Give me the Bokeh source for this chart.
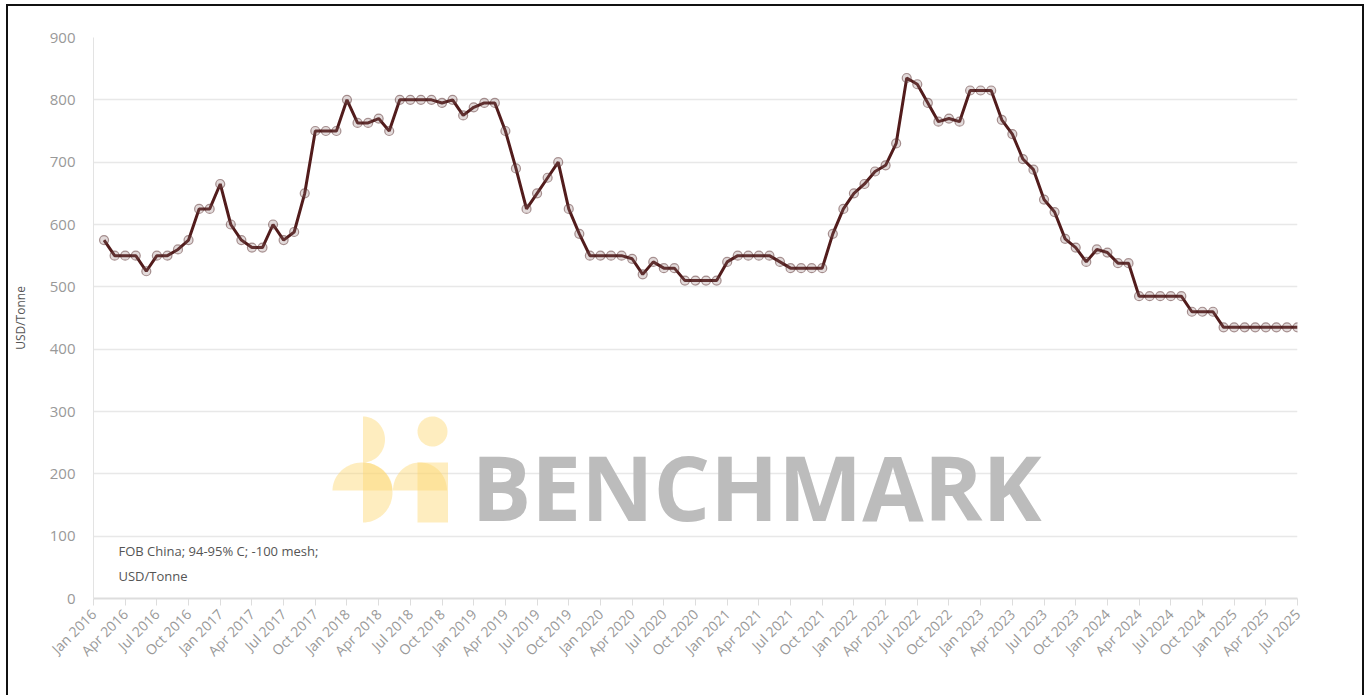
import numpy as np
import pandas as pd
from bokeh.plotting import figure
from bokeh.models import Range1d, FixedTicker, Label, ColumnDataSource
from bokeh.embed import file_html
from bokeh.resources import INLINE

# ---------------- data ----------------
start_month = "2016-02"
end_month = "2025-07"
prices = [
    575, 550, 550, 550, 525, 550, 550, 560, 575,            # Feb-Oct 2016
    625, 625, 665,                                          # Nov 2016-Jan 2017
    600, 575, 563, 563, 600, 575, 588, 650,                 # Feb-Sep 2017
    750, 750, 750,                                          # Oct-Dec 2017
    800, 763, 763, 770, 750,                                # Jan-May 2018
    800, 800, 800, 800, 795, 800, 775,                      # Jun-Dec 2018
    788, 795, 795,                                          # Jan-Mar 2019
    750, 690, 625, 650, 675, 700,                           # Apr-Sep 2019
    625, 585, 550,                                          # Oct-Dec 2019
    550, 550, 550,                                          # Jan-Mar 2020
    545, 520, 540, 530, 530,                                # Apr-Aug 2020
    510, 510, 510, 510,                                     # Sep-Dec 2020
    540, 550, 550, 550, 550,                                # Jan-May 2021
    540, 530, 530, 530, 530,                                # Jun-Oct 2021
    585, 625, 650, 665, 685, 695, 730,                      # Nov 2021-May 2022
    835, 825, 795, 765, 770, 765,                           # Jun-Nov 2022
    815, 815, 815,                                          # Dec 2022-Feb 2023
    768, 745, 705, 688, 640, 620, 577, 563, 540,            # Mar-Nov 2023
    560, 555, 538, 538,                                     # Dec 2023-Mar 2024
    485, 485, 485, 485, 485,                                # Apr-Aug 2024
    460, 460, 460,                                          # Sep-Nov 2024
    435, 435, 435, 435, 435, 435, 435, 435,                 # Dec 2024-Jul 2025
]
tick_labels = [
    "Jan 2016", "Apr 2016", "Jul 2016", "Oct 2016",
    "Jan 2017", "Apr 2017", "Jul 2017", "Oct 2017",
    "Jan 2018", "Apr 2018", "Jul 2018", "Oct 2018",
    "Jan 2019", "Apr 2019", "Jul 2019", "Oct 2019",
    "Jan 2020", "Apr 2020", "Jul 2020", "Oct 2020",
    "Jan 2021", "Apr 2021", "Jul 2021", "Oct 2021",
    "Jan 2022", "Apr 2022", "Jul 2022", "Oct 2022",
    "Jan 2023", "Apr 2023", "Jul 2023", "Oct 2023",
    "Jan 2024", "Apr 2024", "Jul 2024", "Oct 2024",
    "Jan 2025", "Apr 2025", "Jul 2025",
]
y_ticks = [0, 100, 200, 300, 400, 500, 600, 700, 800, 900]
note_text = "FOB China; 94-95% C; -100 mesh;\nUSD/Tonne"
y_title = "USD/Tonne"

# month index since Jan 2016
dates = pd.period_range(start_month, end_month, freq="M")
assert len(dates) == len(prices)
xidx = [(d.year - 2016) * 12 + d.month - 1 for d in dates]
src = ColumnDataSource(dict(x=xidx, y=prices))

FONT = "Open Sans"
X_MAX = (len(tick_labels) - 1) * 3

p = figure(frame_width=1204, frame_height=561, output_backend="svg", toolbar_location=None,
           x_range=Range1d(0, X_MAX), y_range=Range1d(0, 900),
           min_border_left=85, min_border_top=31, min_border_right=65, min_border_bottom=97,
           margin=(4, 0, 0, 6),
           styles={"border-top": "2px solid #111", "border-left": "2px solid #111",
                   "border-right": "2px solid #111"})
p.outline_line_color = None
p.background_fill_color = "white"
p.border_fill_color = "white"

# ---- watermark (decoration) ----
FW, FH = 1204.0, 561.0
def fx(px):  # frame pixel -> data x
    return px / FW * X_MAX
def fy(py):  # frame pixel from top -> data y
    return (FH - py) / FH * 900

def ellipse_part(cx, cy, rx, ry, a0, a1, n=40):
    t = np.linspace(np.radians(a0), np.radians(a1), n)
    return list(cx + rx * np.cos(t)), list(cy - ry * np.sin(t))

shapes = []
ox, oy = 93, 37  # frame origin on page
shapes.append(ellipse_part(362.5, 439, 22, 23, -90, 90))
shapes.append(ellipse_part(432, 431, 15, 15, 0, 360))
shapes.append(ellipse_part(362, 490, 30, 28, 0, 180))
shapes.append(ellipse_part(362.5, 492, 29.5, 30, -90, 90))
shapes.append(ellipse_part(419.5, 490, 27, 28, 0, 180))
shapes.append(([417, 447.5, 447.5, 417], [462, 462, 522, 522]))

pxs = [[fx(v - ox) for v in s[0]] for s in shapes]
pys = [[fy(v - oy) for v in s[1]] for s in shapes]
p.patches(pxs, pys, fill_color="#FCD672", fill_alpha=0.45, line_color=None)

p.add_layout(Label(x=fx(471 - ox), y=fy(486 - oy), text="BENCHMARK",
                   text_font=FONT, text_font_size="89px", text_font_style="bold",
                   text_color="#bcbcbc", text_baseline="alphabetic", text_align="left"))

# ---- data ----
p.line("x", "y", source=src, line_color="#521c1c", line_width=3)
p.scatter("x", "y", source=src, size=9, fill_color="#8c6b6b", fill_alpha=0.25,
          line_color="#5a3030", line_alpha=0.5, line_width=1.2)

# note
p.add_layout(Label(x=fx(118 - ox), y=fy(541 - oy), text=note_text,
                   text_font=FONT, text_font_size="13px", text_color="#555555",
                   text_baseline="top", text_align="left", text_line_height=1.42))

# ---- axes ----
p.xaxis.ticker = FixedTicker(ticks=list(range(0, X_MAX + 1, 3)))
p.xaxis.major_label_overrides = {i * 3: lab for i, lab in enumerate(tick_labels)}
p.xaxis.major_label_orientation = np.pi / 4
p.xaxis.major_label_text_font = FONT
p.xaxis.major_label_text_font_size = "14px"
p.xaxis.major_label_text_color = "#999999"
p.xaxis.major_label_standoff = 6
p.xaxis.axis_line_color = "#dddddd"
p.xaxis.axis_line_width = 2
p.xaxis.major_tick_line_color = "#dddddd"
p.xaxis.major_tick_out = 7
p.xaxis.major_tick_in = 0
p.xaxis.minor_tick_line_color = None

p.yaxis.ticker = FixedTicker(ticks=y_ticks)
p.yaxis.major_label_text_font = FONT
p.yaxis.major_label_text_font_size = "15px"
p.yaxis.major_label_text_color = "#999999"
p.yaxis.major_label_standoff = 12
p.yaxis.axis_line_color = "#e3e3e3"
p.yaxis.major_tick_line_color = None
p.yaxis.minor_tick_line_color = None
p.yaxis.axis_label = y_title
p.yaxis.axis_label_text_font = FONT
p.yaxis.axis_label_text_font_size = "12px"
p.yaxis.axis_label_text_font_style = "normal"
p.yaxis.axis_label_text_color = "#555555"
p.yaxis.axis_label_standoff = 18

p.xgrid.grid_line_color = None
p.ygrid.grid_line_color = "#e8e8e8"
p.ygrid.grid_line_width = 1.5

open("out.html", "w").write(file_html(p, INLINE))
